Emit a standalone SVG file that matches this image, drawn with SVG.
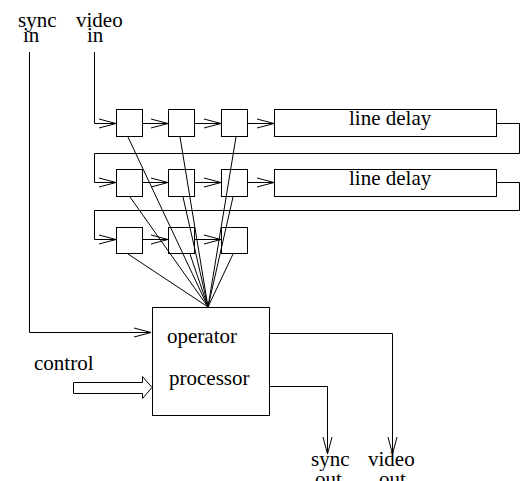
<svg xmlns="http://www.w3.org/2000/svg" width="528" height="481" viewBox="0 0 528 481">
  <style>
    .box { fill: #fff; stroke: #000; stroke-width: 1; }
    .open { fill: none; stroke: #000; stroke-width: 1; }
    .wire { fill: none; stroke: #000; stroke-width: 1; }
    text { font-family: 'Liberation Serif', 'Times New Roman', Times, 'DejaVu Serif', serif; font-size: 21px; fill: #000; }
  </style>
  <defs>
    <marker id="vee" markerUnits="userSpaceOnUse" markerWidth="20" markerHeight="12" refX="17" refY="5" orient="auto" overflow="visible">
      <path d="M0,0.5 L17,5 L0,9.5" fill="none" stroke="#000" stroke-width="1"/>
    </marker>
  </defs>
  <rect width="528" height="481" fill="#fff"/>

  <!-- inputs and outputs labels -->
  <g id="sync-in">
    <text x="18" y="27">sync</text>
    <text x="23" y="42">in</text>
  </g>
  <g id="video-in">
    <text x="76" y="27">video</text>
    <text x="87" y="42">in</text>
  </g>
  <g id="sync-out">
    <text x="311" y="466">sync</text>
    <text x="315" y="486">out</text>
  </g>
  <g id="video-out">
    <text x="368" y="466">video</text>
    <text x="379" y="486">out</text>
  </g>

  <!-- connectors -->
  <g id="connectors">
    <polyline class="wire" points="29.5,52 29.5,332.5 151,332.5" marker-end="url(#vee)"/>
    <polyline class="wire" points="94.5,52 94.5,123.5 116,123.5" marker-end="url(#vee)"/>
    <!-- row 1 -->
    <line class="wire" x1="142" y1="123.5" x2="168" y2="123.5" marker-end="url(#vee)"/>
    <line class="wire" x1="195" y1="123.5" x2="221" y2="123.5" marker-end="url(#vee)"/>
    <line class="wire" x1="248" y1="123.5" x2="274" y2="123.5" marker-end="url(#vee)"/>
    <polyline class="wire" points="497,123.5 519.5,123.5 519.5,153.5 94.5,153.5 94.5,182.5 116,182.5" marker-end="url(#vee)"/>
    <!-- row 2 -->
    <line class="wire" x1="142" y1="182.5" x2="168" y2="182.5" marker-end="url(#vee)"/>
    <line class="wire" x1="195" y1="182.5" x2="221" y2="182.5" marker-end="url(#vee)"/>
    <line class="wire" x1="248" y1="182.5" x2="274" y2="182.5" marker-end="url(#vee)"/>
    <polyline class="wire" points="497,182.5 519.5,182.5 519.5,210.5 94.5,210.5 94.5,239.5 116,239.5" marker-end="url(#vee)"/>
    <!-- row 3 -->
    <line class="wire" x1="142" y1="239.5" x2="168" y2="239.5" marker-end="url(#vee)"/>
    <line class="wire" x1="195" y1="239.5" x2="221" y2="239.5" marker-end="url(#vee)"/>
    <!-- taps into the operator -->
    <line class="wire" x1="128" y1="137" x2="208" y2="307"/>
    <line class="wire" x1="180" y1="137" x2="208" y2="307"/>
    <line class="wire" x1="236" y1="137" x2="208" y2="307"/>
    <line class="wire" x1="130" y1="197" x2="208" y2="307"/>
    <line class="wire" x1="183" y1="197" x2="208" y2="307"/>
    <line class="wire" x1="233" y1="197" x2="208" y2="307"/>
    <line class="wire" x1="128" y1="254" x2="208" y2="307"/>
    <line class="wire" x1="190" y1="254" x2="208" y2="307"/>
    <line class="wire" x1="233" y1="254" x2="208" y2="307"/>
    <!-- outputs -->
    <polyline class="wire" points="269,333.5 392.5,333.5 392.5,454" marker-end="url(#vee)"/>
    <polyline class="wire" points="269,386.5 327.5,386.5 327.5,454" marker-end="url(#vee)"/>
  </g>

  <!-- tap registers -->
  <g id="r1c1"><rect class="open" x="116.5" y="109.5" width="26" height="27"/></g>
  <g id="r1c2"><rect class="open" x="168.5" y="109.5" width="26" height="27"/></g>
  <g id="r1c3"><rect class="open" x="221.5" y="109.5" width="26" height="27"/></g>
  <g id="delay1">
    <rect class="box" x="274.5" y="109.5" width="222" height="27"/>
    <text x="349" y="125">line delay</text>
  </g>
  <g id="r2c1"><rect class="open" x="116.5" y="169.5" width="26" height="27"/></g>
  <g id="r2c2"><rect class="open" x="168.5" y="169.5" width="26" height="27"/></g>
  <g id="r2c3"><rect class="open" x="221.5" y="169.5" width="26" height="27"/></g>
  <g id="delay2">
    <rect class="box" x="274.5" y="169.5" width="222" height="27"/>
    <text x="349" y="185">line delay</text>
  </g>
  <g id="r3c1"><rect class="open" x="116.5" y="227.5" width="26" height="26"/></g>
  <g id="r3c2"><rect class="open" x="168.5" y="227.5" width="26" height="26"/></g>
  <g id="r3c3"><rect class="open" x="221.5" y="227.5" width="26" height="26"/></g>

  <!-- operator processor -->
  <g id="operator">
    <rect class="box" x="152.5" y="307.5" width="117" height="108"/>
    <text x="167" y="343">operator</text>
    <text x="169" y="385">processor</text>
  </g>

  <!-- control input -->
  <g id="control">
    <text x="34" y="370">control</text>
    <polygon points="73.5,382.5 142.5,382.5 142.5,376.5 152,387.5 142.5,398.5 142.5,393.5 73.5,393.5" fill="#fff" stroke="#000" stroke-width="1"/>
  </g>
</svg>
